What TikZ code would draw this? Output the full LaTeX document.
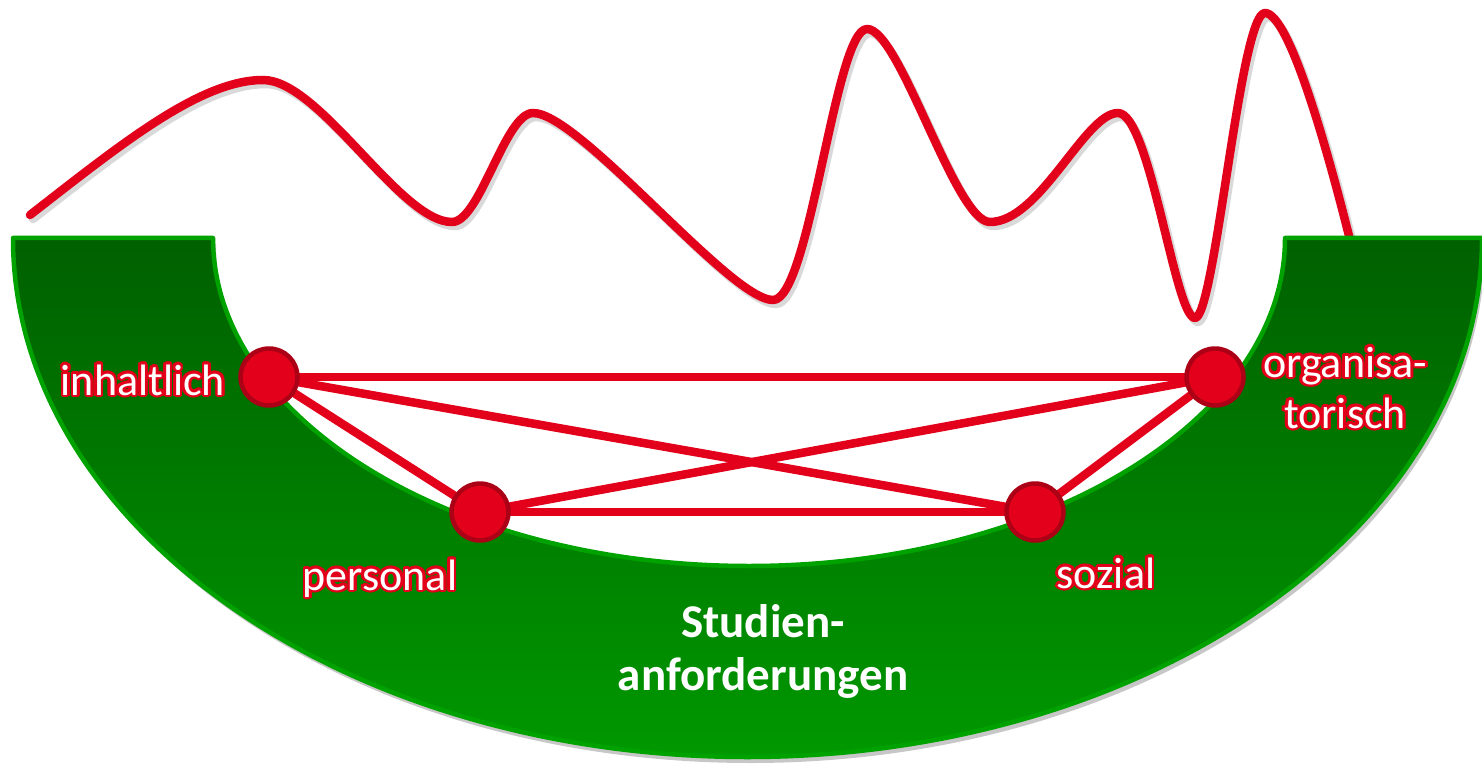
\documentclass[tikz,border=0pt]{standalone}
\usepackage{fontspec}
\setmainfont{Carlito}
\definecolor{wavered}{RGB}{226,0,26}
\definecolor{rimred}{RGB}{172,0,22}
\definecolor{bowltop}{RGB}{0,96,0}
\definecolor{bowlbot}{RGB}{0,152,0}
\definecolor{bowlrim}{RGB}{0,162,0}
% white letters with a red rim
\newcommand\glowtext[1]{%
  \leavevmode
  \foreach \gang in {0,22.5,...,337.5}{%
    \pgfmathsetlengthmacro\gdx{2.8pt*cos(\gang)}%
    \pgfmathsetlengthmacro\gdy{2.8pt*sin(\gang)}%
    \rlap{\hspace*{\gdx}\raisebox{\gdy}{\color{wavered}#1}}}%
  #1}
\begin{document}
\begin{tikzpicture}[x=1pt,y=-1pt, line join=round, line cap=round,
  joint/.style={circle, fill=wavered, draw=rimred, line width=4.5pt, minimum size=57pt, inner sep=0pt},
  link/.style={wavered, line width=8.5pt},
  wave/.style={line width=8.5pt},
  tag/.style={text=white, font=\fontsize{44}{51}\selectfont, align=center, anchor=base}]
\useasboundingbox (0,0) rectangle (1482,767);
% the wave (shadow first)
\foreach \wshift/\wcol in {{(3,4)}/black!15, {(0,0)}/wavered}{
\draw[wave, \wcol, shift=\wshift] (30,215) .. controls (120,145) and (200,80) .. (263,80)
  .. controls (320,80) and (400,222) .. (452,222)
  .. controls (480,222) and (505,113) .. (533,113)
  .. controls (580,113) and (730,300) .. (773,300)
  .. controls (810,300) and (835,29) .. (867,29)
  .. controls (900,29) and (955,222) .. (990,222)
  .. controls (1040,222) and (1085,113) .. (1118,113)
  .. controls (1150,113) and (1175,318) .. (1195,318)
  .. controls (1215,318) and (1240,13) .. (1265,13)
  .. controls (1290,13) and (1330,160) .. (1350,240);
}
% the bowl
\fill[black!22, shift={(3,6)}] (13,238) -- (213,238) arc[start angle=180, end angle=360, x radius=536pt, y radius=328pt] -- (1482,238) arc[start angle=0, end angle=-180, x radius=734.5pt, y radius=519pt] -- cycle;
\draw[bowlrim, line width=4.5pt, top color=bowltop, bottom color=bowlbot] (13,238) -- (213,238) arc[start angle=180, end angle=360, x radius=536pt, y radius=328pt] -- (1482,238) arc[start angle=0, end angle=-180, x radius=734.5pt, y radius=519pt] -- cycle;
% points and links
\coordinate (cih) at (269,377);
\coordinate (cpe) at (480,512);
\coordinate (cso) at (1035,512);
\coordinate (cor) at (1215,377);
\draw[link] (cih) -- (cor);
\draw[link] (cih) -- (cpe);
\draw[link] (cih) -- (cso);
\draw[link] (cpe) -- (cso);
\draw[link] (cpe) -- (cor);
\draw[link] (cso) -- (cor);
\node[joint] (ih) at (cih) {};
\node[joint] (pe) at (cpe) {};
\node[joint] (so) at (cso) {};
\node[joint] (or) at (cor) {};
% labels
\node[tag] (lih) at (143,395) {\glowtext{inhaltlich}};
\node[tag] (lpe) at (380,590) {\glowtext{personal}};
\node[tag] (lso) at (1106,588) {\glowtext{sozial}};
\node[tag] (lor) at (1345,428) {\glowtext{organisa-}\\\glowtext{torisch}};
\node[text=white, font=\fontsize{47}{53}\selectfont\bfseries, align=center, anchor=base] (title) at (763,690) {Studien-\\anforderungen};
\end{tikzpicture}
\end{document}
